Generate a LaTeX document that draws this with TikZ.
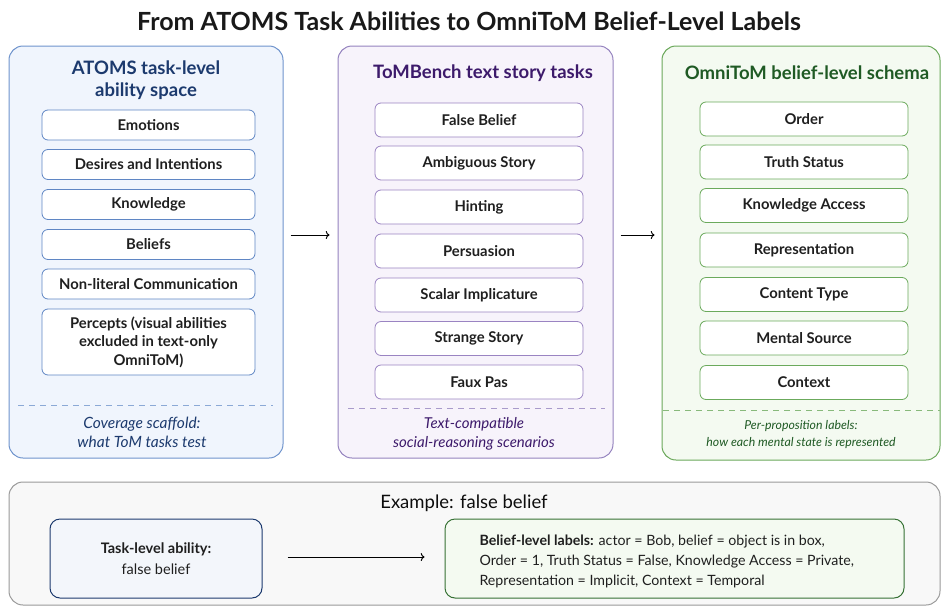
\documentclass[tikz,border=0pt]{standalone}
\usepackage{fontspec}
\setmainfont{Lato}
\usetikzlibrary{arrows.meta,positioning}
\definecolor{atomsline}{HTML}{6E93CC}
\definecolor{atomsfill}{HTML}{F0F5FD}
\definecolor{atomstext}{HTML}{1C3A6E}
\definecolor{atomsitem}{HTML}{5F86C4}
\definecolor{benchline}{HTML}{9482BE}
\definecolor{benchfill}{HTML}{F7F3FB}
\definecolor{benchtext}{HTML}{3D1A6B}
\definecolor{benchitem}{HTML}{9A84C2}
\definecolor{omniline}{HTML}{6AA85A}
\definecolor{omnifill}{HTML}{F4FAF1}
\definecolor{omnitext}{HTML}{1F5A24}
\definecolor{omniitem}{HTML}{6BAA5C}
\definecolor{exline}{HTML}{9A9A9A}
\definecolor{exfill}{HTML}{F8F8F8}
\tikzset{
  panel/.style={draw, rounded corners=14pt, line width=1pt, inner sep=0pt},
  itembox/.style={draw, fill=white, rounded corners=6pt, line width=0.8pt, inner sep=0pt,
    align=center, text=black!88, font=\bfseries\fontsize{14.8}{18}\selectfont},
  paneltitle/.style={align=center, font=\bfseries\fontsize{18.5}{22}\selectfont},
  caption/.style={align=center, font=\itshape\fontsize{14}{19}\selectfont},
  sep/.style={dashed, line width=0.8pt, dash pattern=on 6pt off 5pt},
}
\begin{document}
\begin{tikzpicture}[x=1pt,y=-1pt]
  \useasboundingbox (0,0) rectangle (941,608);
  \node[font=\bfseries\fontsize{25}{27}\selectfont, text=black!90] (title) at (469,21)
    {From ATOMS Task Abilities to OmniToM Belief-Level Labels};
  \node[panel, draw=atomsline, fill=atomsfill, minimum width=274pt, minimum height=412pt] (atoms) at (146,252) {};
  \node[panel, draw=benchline, fill=benchfill, minimum width=275pt, minimum height=412pt] (bench) at (475.5,252) {};
  \node[panel, draw=omniline, fill=omnifill, minimum width=278pt, minimum height=414pt] (omni) at (801,253) {};
  \node[paneltitle, text=atomstext] (atomstitle) at (146,80) {ATOMS task-level\\ability space};
  \node[paneltitle, text=benchtext] (benchtitle) at (483,73) {ToMBench text story tasks};
  \node[paneltitle, text=omnitext] (omnititle) at (807,73) {OmniToM belief-level schema};
  \foreach \name/\y/\txt in {emo/125/Emotions, des/164.5/Desires and Intentions, know/204.5/Knowledge,
      bel/244.5/Beliefs, nonlit/284/Non-literal Communication}
    \node[itembox, draw=atomsitem, minimum width=213pt, minimum height=30pt] (\name) at (148.5,\y) {\txt};
  \node[itembox, draw=atomsitem, minimum width=213pt, minimum height=66pt, font=\bfseries\fontsize{14.8}{18.5}\selectfont] (percepts) at (148.5,342)
    {Percepts (visual abilities\\excluded in text-only\\OmniToM)};
  \foreach \name/\y/\txt in {fb/120/False Belief, amb/163/Ambiguous Story, hint/207/Hinting,
      pers/251/Persuasion, scal/295/Scalar Implicature, strange/338.5/Strange Story, faux/382/Faux Pas}
    \node[itembox, draw=benchitem, minimum width=208pt, minimum height=34pt] (\name) at (479,\y) {\txt};
  \foreach \name/\y/\txt in {order/119/Order, truth/162/Truth Status, access/205.5/Knowledge Access,
      repr/250/Representation, content/294.5/Content Type, source/338/Mental Source, ctx/382.5/Context}
    \node[itembox, draw=omniitem, minimum width=208pt, minimum height=34pt] (\name) at (804,\y) {\txt};
  \draw[sep, draw=atomsline!80] (18,405) -- (273,405);
  \draw[sep, draw=benchline!80] (348,408) -- (605,408);
  \draw[sep, draw=omniline!80] (663,410) -- (940,410);
  \node[caption, text=atomstext, font=\itshape\fontsize{15.5}{19}\selectfont] (atomscap) at (142,432.5) {Coverage scaffold:\\what ToM tasks test};
  \node[caption, text=benchtext, font=\itshape\fontsize{15}{19}\selectfont] (benchcap) at (474,434) {Text-compatible\\social-reasoning scenarios};
  \node[caption, text=omnitext, font=\itshape\fontsize{12.3}{17}\selectfont] (omnicap) at (801,435) {Per-proposition labels:\\how each mental state is represented};
  \draw[->, line width=1pt, shorten <=7pt, shorten >=8pt] ([yshift=17pt]atoms.east) -- ([yshift=17pt]bench.west);
  \draw[->, line width=1pt, shorten <=7pt, shorten >=7pt] ([yshift=17pt]bench.east) -- ([yshift=17pt]bench.east -| omni.west);
  \node[panel, draw=exline, fill=exfill, minimum width=931pt, minimum height=123pt] (example) at (474.5,543.5) {};
  \node[font=\fontsize{18.5}{20}\selectfont, text=black!95] (extitle) at (464,503) {Example: false belief};
  \node[panel, rounded corners=10pt, draw=atomstext, fill=atomsfill!80!atomsline!30, minimum width=212pt, minimum height=79pt] (task) at (156,558.5) {};
  \node[align=center, font=\fontsize{14.5}{21}\selectfont, text=black!88] (tasktxt) at (task) {\textbf{Task-level ability:}\\false belief};
  \node[panel, rounded corners=10pt, draw=omnitext!70!omniline, fill=omnifill, minimum width=459pt, minimum height=79pt] (labels) at (674.5,558.5) {};
  \node[anchor=west, align=left, font=\fontsize{14.2}{20}\selectfont, text=black!88] (labeltxt) at (476,561)
    {\textbf{Belief-level labels:} actor = Bob, belief = object is in box,\\
     Order = 1, Truth Status = False, Knowledge Access = Private,\\
     Representation = Implicit, Context = Temporal};
  \draw[->, line width=1pt, shorten <=25pt, shorten >=20pt] ([yshift=1.5pt]task.east) -- ([yshift=1.5pt]labels.west);
\end{tikzpicture}
\end{document}
